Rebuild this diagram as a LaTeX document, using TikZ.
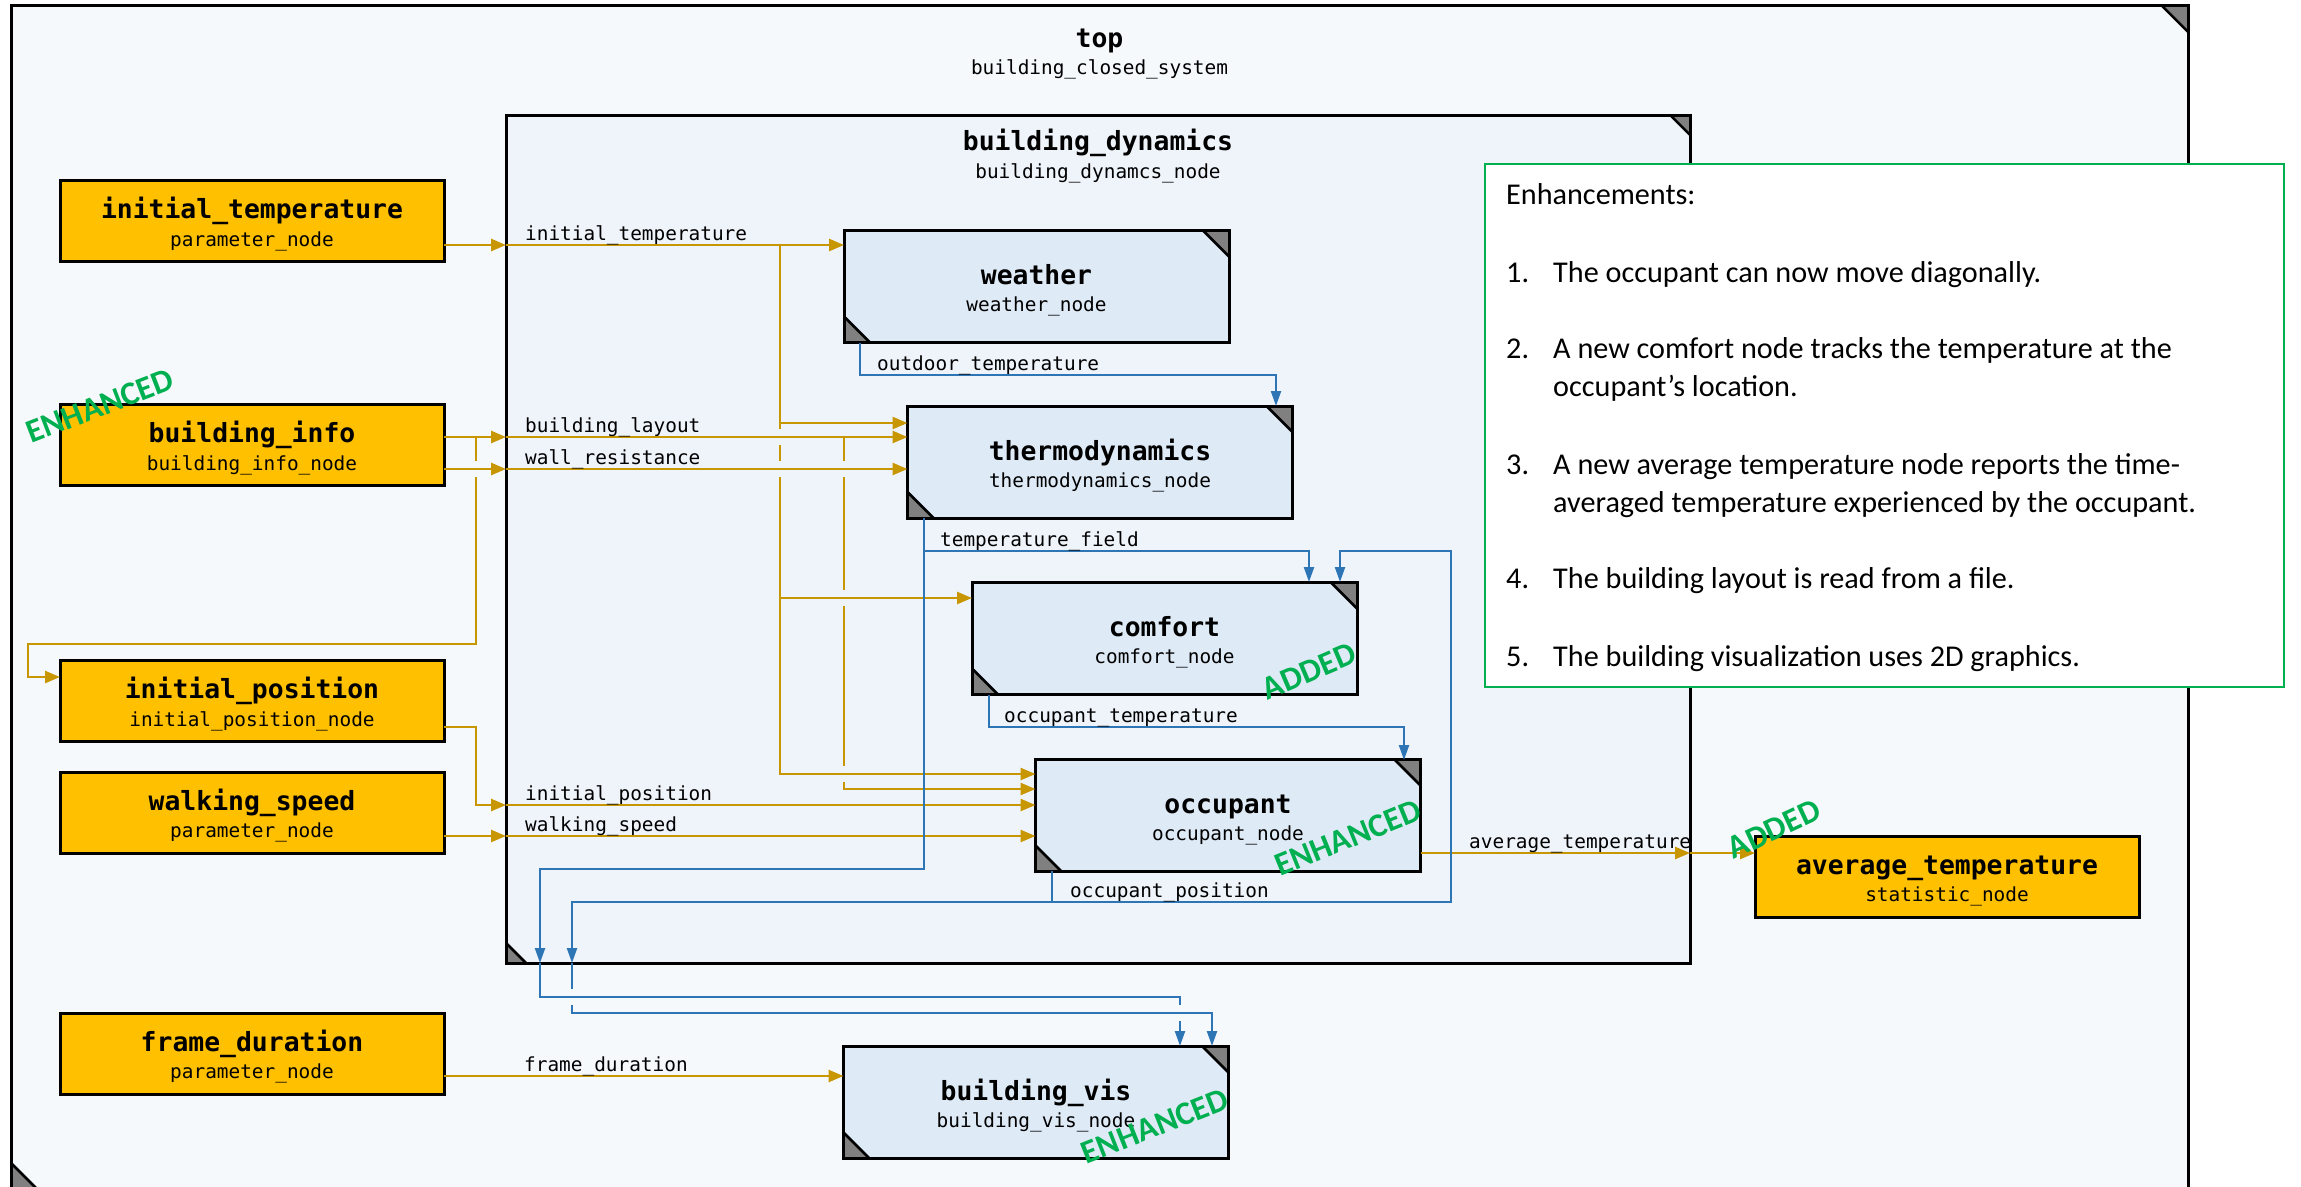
\documentclass[tikz,border=0pt]{standalone}
\usepackage{fontspec}
\setmainfont{Carlito}
\newfontfamily\monofam{DejaVu Sans Mono}
\usetikzlibrary{arrows.meta,calc}

\definecolor{outerfill}{RGB}{245,249,252}
\definecolor{innerfill}{RGB}{239,244,251}
\definecolor{nodefill}{RGB}{222,234,246}
\definecolor{paramfill}{RGB}{255,192,0}
\definecolor{wireor}{RGB}{200,150,0}
\definecolor{wirebl}{RGB}{46,117,182}
\definecolor{tagreen}{RGB}{0,176,80}
\definecolor{cornergray}{RGB}{128,128,128}

% break in a vertical wire where another wire crosses it
\newcommand\wgap[4]{%
  \draw[line width=5.5pt, draw=#3] (#1,#2-8) -- (#1,#2+8);
  \draw[#4] (#1-4,#2) -- (#1+4,#2);
}

\begin{document}
\begin{tikzpicture}[x=1pt,y=-1pt,
  corners/.style={path picture={
    \fill[cornergray] ($(path picture bounding box.north east)+(-#1,0)$) -- (path picture bounding box.north east) -- ($(path picture bounding box.north east)+(0,#1)$) -- cycle;
    \draw[black, line width=2.5pt] ($(path picture bounding box.north east)+(-#1,0)$) -- ($(path picture bounding box.north east)+(0,#1)$);
    \fill[cornergray] ($(path picture bounding box.south west)+(0,-#1)$) -- (path picture bounding box.south west) -- ($(path picture bounding box.south west)+(#1,0)$) -- cycle;
    \draw[black, line width=2.5pt] ($(path picture bounding box.south west)+(0,-#1)$) -- ($(path picture bounding box.south west)+(#1,0)$);
  }},
  frame/.style={rectangle, draw=black, line width=3pt, inner sep=0pt, outer sep=0pt},
  param/.style={frame, fill=paramfill, minimum width=384pt, minimum height=81pt},
  block/.style={frame, fill=nodefill, corners=26, minimum width=385pt, minimum height=112pt},
  ttl/.style={font=\monofam\bfseries\fontsize{26.4pt}{30pt}\selectfont, inner sep=0pt, anchor=base},
  sub/.style={font=\monofam\fontsize{19.4pt}{22pt}\selectfont, inner sep=0pt, anchor=base},
  lbl/.style={font=\monofam\fontsize{19.4pt}{22pt}\selectfont, inner sep=0pt, anchor=base west},
  note/.style={font=\fontsize{30.2pt}{38pt}\selectfont, inner sep=0pt, anchor=base west},
  tag/.style={font=\bfseries\fontsize{33pt}{36pt}\selectfont, text=tagreen, inner sep=0pt},
  ow/.style={draw=wireor, line width=2.5pt},
  owa/.style={ow, -{Triangle[length=15pt,width=12pt]}},
  bw/.style={draw=wirebl, line width=2.2pt},
  bwa/.style={bw, -{Triangle[length=15pt,width=10pt]}},
]
\fill[white] (0,0) rectangle (2301,1186);
\useasboundingbox (0,0) rectangle (2301,1186);

% containers
\node[frame, fill=outerfill, corners=27, minimum width=2177pt, minimum height=1185pt] (top) at (1099.5,597.5) {};
\node[ttl] (top-t) at (1099.5,47) {top};
\node[sub] (top-s) at (1099.5,74) {building\_closed\_system};

\node[frame, fill=innerfill, corners=20, minimum width=1184pt, minimum height=848pt] (dyn) at (1098,539) {};
\node[ttl] (dyn-t) at (1098,150) {building\_dynamics};
\node[sub] (dyn-s) at (1098,178) {building\_dynamcs\_node};

% parameter and statistic nodes
\node[param] (pitemp) at (252,221) {};
\node[ttl] (pitemp-t) at ([yshift=2.5pt]pitemp.center) {initial\_temperature};
\node[sub] (pitemp-s) at ([yshift=-25pt]pitemp.center) {parameter\_node};

\node[param] (pbinfo) at (252,445) {};
\node[ttl] (pbinfo-t) at ([yshift=2.5pt]pbinfo.center) {building\_info};
\node[sub] (pbinfo-s) at ([yshift=-25pt]pbinfo.center) {building\_info\_node};

\node[param] (pipos) at (252,701) {};
\node[ttl] (pipos-t) at ([yshift=2.5pt]pipos.center) {initial\_position};
\node[sub] (pipos-s) at ([yshift=-25pt]pipos.center) {initial\_position\_node};

\node[param] (pwalk) at (252,812.5) {};
\node[ttl] (pwalk-t) at ([yshift=2.5pt]pwalk.center) {walking\_speed};
\node[sub] (pwalk-s) at ([yshift=-25pt]pwalk.center) {parameter\_node};

\node[param] (pframe) at (252,1053.5) {};
\node[ttl] (pframe-t) at ([yshift=2.5pt]pframe.center) {frame\_duration};
\node[sub] (pframe-s) at ([yshift=-25pt]pframe.center) {parameter\_node};

\node[param] (pavg) at (1947,876.5) {};
\node[ttl] (pavg-t) at ([yshift=2.5pt]pavg.center) {average\_temperature};
\node[sub] (pavg-s) at ([yshift=-25pt]pavg.center) {statistic\_node};

% processing nodes
\node[block] (weather) at (1036.5,286.5) {};
\node[ttl] (weather-t) at ([yshift=2pt]weather.center) {weather};
\node[sub] (weather-s) at ([yshift=-25pt]weather.center) {weather\_node};

\node[block] (thermo) at (1100,462) {};
\node[ttl] (thermo-t) at ([yshift=2pt]thermo.center) {thermodynamics};
\node[sub] (thermo-s) at ([yshift=-25pt]thermo.center) {thermodynamics\_node};

\node[block] (comfort) at (1164.5,638.5) {};
\node[ttl] (comfort-t) at ([yshift=2pt]comfort.center) {comfort};
\node[sub] (comfort-s) at ([yshift=-25pt]comfort.center) {comfort\_node};

\node[block] (occ) at (1228,815.5) {};
\node[ttl] (occ-t) at ([yshift=2pt]occ.center) {occupant};
\node[sub] (occ-s) at ([yshift=-25pt]occ.center) {occupant\_node};

\node[block] (bvis) at (1036,1102.5) {};
\node[ttl] (bvis-t) at ([yshift=2pt]bvis.center) {building\_vis};
\node[sub] (bvis-s) at ([yshift=-25pt]bvis.center) {building\_vis\_node};

% wire junctions and boundary crossings
\coordinate (itb) at (506,245);
\coordinate (itj) at (780,245);
\coordinate (y423) at (0,423);
\coordinate (y598) at (0,598);
\coordinate (y774) at (0,774);
\coordinate (blb) at (506,437);
\coordinate (wrb) at (506,469);
\coordinate (bij) at (476,437);
\coordinate (blj) at (844,437);
\coordinate (y789) at (0,789);
\coordinate (y677) at (0,677);
\coordinate (y727) at (0,727);
\coordinate (ipb) at (506,805);
\coordinate (wsb) at (506,836);
\coordinate (y1076) at (0,1076);
\coordinate (atb) at (1690,853);
\coordinate (tfj) at (924,551);
\coordinate (tfb) at (540,963);
\coordinate (opj) at (1052,902);
\coordinate (opb) at (572,963);

% orange data wires
\draw[owa] (pitemp.east |- itb) -- (itb);
\draw[owa] (itb) -- (weather.west |- itb);
\draw[owa] (itj) |- (occ.west |- y774);
\draw[owa] (itj |- y423) -- (thermo.west |- y423);
\draw[owa] (itj |- y598) -- (comfort.west |- y598);

\draw[owa] (pbinfo.east |- blb) -- (blb);
\draw[owa] (pbinfo.east |- wrb) -- (wrb);
\draw[owa] (blb) -- (thermo.west |- blb);
\draw[owa] (wrb) -- (thermo.west |- wrb);
\draw[owa] (bij) -- (476,644) -- (28,644) -- (28,677) -- (pipos.west |- y677);
\draw[owa] (blj) |- (occ.west |- y789);

\draw[owa] (pipos.east |- y727) -- (476,727) |- (ipb);
\draw[owa] (ipb) -- (occ.west |- ipb);
\draw[owa] (pwalk.east |- wsb) -- (wsb);
\draw[owa] (wsb) -- (occ.west |- wsb);
\draw[owa] (pframe.east |- y1076) -- (bvis.west |- y1076);
\draw[owa] (occ.east |- atb) -- (atb);
\draw[owa] (atb) -- (pavg.west |- atb);

% blue data wires
\draw[bwa] (860,343) -- (860,375) -- (1276,375) -- (1276,406);
\draw[bwa] (924,518) -- (tfj) -- (1309,551) -- (1309,582);
\draw[bwa] (tfj) -- (924,869) -- (540,869) -- (tfb);
\draw[bwa] (tfb) -- (540,997) -- (1180,997) -- (1180,1046);
\draw[bwa] (989,695) -- (989,727) -- (1404,727) -- (1404,760);
\draw[bwa] (1052,871) -- (opj) -- (1451,902) -- (1451,551) -- (1340,551) -- (1340,582);
\draw[bwa] (opj) -- (572,902) -- (opb);
\draw[bwa] (opb) -- (572,1013) -- (1212,1013) -- (1212,1046);

% crossings
\wgap{476}{469}{outerfill}{ow}
\wgap{780}{437}{innerfill}{ow}
\wgap{780}{469}{innerfill}{ow}
\wgap{844}{469}{innerfill}{ow}
\wgap{844}{598}{innerfill}{ow}
\wgap{844}{774}{innerfill}{ow}
\wgap{572}{997}{outerfill}{bw}
\wgap{1180}{1013}{outerfill}{bw}

% wire labels
\node[lbl] (l-itemp) at (525,240) {initial\_temperature};
\node[lbl] (l-blay) at (525,432) {building\_layout};
\node[lbl] (l-wall) at (525,464) {wall\_resistance};
\node[lbl] (l-ipos) at (525,800) {initial\_position};
\node[lbl] (l-walk) at (525,831) {walking\_speed};
\node[lbl] (l-frame) at (524,1071) {frame\_duration};
\node[lbl] (l-out) at (877,370) {outdoor\_temperature};
\node[lbl] (l-tf) at (940,546) {temperature\_field};
\node[lbl] (l-ot) at (1004,722) {occupant\_temperature};
\node[lbl] (l-op) at (1070,897) {occupant\_position};
\node[lbl] (l-avg) at (1469,848) {average\_temperature};

% change tags
\node[tag, rotate=21] (tag-binfo) at (100,406) {ENHANCED};
\node[tag, rotate=23] (tag-comfort) at (1309,671) {ADDED};
\node[tag, rotate=22] (tag-occ) at (1348,838) {ENHANCED};
\node[tag, rotate=25] (tag-avg) at (1774,829) {ADDED};
\node[tag, rotate=21.5] (tag-bvis) at (1155,1126) {ENHANCED};

% enhancement notes
\node[draw=tagreen, line width=2pt, fill=white, minimum width=799pt, minimum height=523pt, inner sep=0pt] (notes) at (1884.5,425.5) {};
\node[note] (n0) at (1506,204) {Enhancements:};
\node[note] (n1) at (1506,282) {1.};
\node[note] (n1t) at (1553,282) {The occupant can now move diagonally.};
\node[note] (n2) at (1506,358) {2.};
\node[note] (n2t) at (1553,358) {A new comfort node tracks the temperature at the};
\node[note] (n2u) at (1553,396) {occupant’s location.};
\node[note] (n3) at (1506,474) {3.};
\node[note] (n3t) at (1553,474) {A new average temperature node reports the time-};
\node[note] (n3u) at (1553,512) {averaged temperature experienced by the occupant.};
\node[note] (n4) at (1506,588) {4.};
\node[note] (n4t) at (1553,588) {The building layout is read from a file.};
\node[note] (n5) at (1506,666) {5.};
\node[note] (n5t) at (1553,666) {The building visualization uses 2D graphics.};
\end{tikzpicture}
\end{document}
